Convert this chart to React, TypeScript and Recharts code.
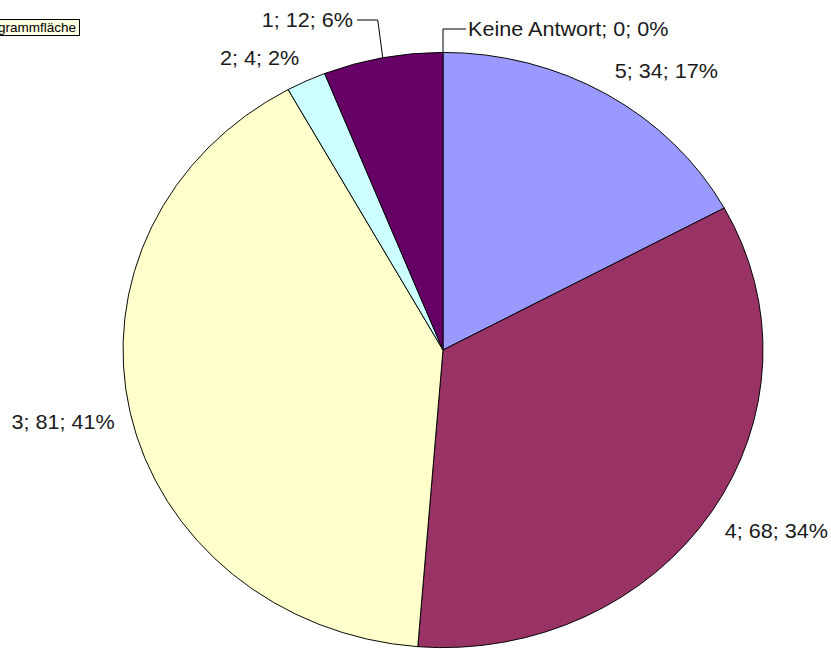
import { PieChart, Pie, Cell, Sector } from 'recharts';

// Antworten (Skala 1-5) – Reihenfolge wie im Original, im Uhrzeigersinn ab 12 Uhr
const CATEGORIES = ['Keine Antwort', '5', '4', '3', '2', '1'];
const COUNTS = [0, 34, 68, 81, 4, 12];
const COLORS = ['#9999FF', '#9999FF', '#993366', '#FFFFCC', '#CCFFFF', '#660066'];

const data = CATEGORIES.map((name, i) => ({ name, value: COUNTS[i] }));

const W = 831;
const H = 649;
const CX = 443;
const CY = 350;
const R = 320;
const SY = 0.93; // Screenshot ist horizontal gestreckt -> Torte als Ellipse
const SX_TEXT = 1.08; // gleiche Streckung für die Schrift
const LABEL_GAP = 16;
const RAD = Math.PI / 180;
const FONT = '"Liberation Sans", Arial, sans-serif';

// Beschriftungen mit Führungslinie (von Excel verschoben)
const LEADERS: Record<string, { elbowY: number; elbowDx: number; textX: number }> = {
  'Keine Antwort': { elbowY: 29, elbowDx: 0, textX: 468 },
  '1': { elbowY: 20, elbowDx: -5, textX: 353 },
};

const EllipseSector = (props: any) => (
  <g transform={`translate(0 ${props.cy * (1 - SY)}) scale(1 ${SY})`}>
    <Sector {...props} />
  </g>
);

const Label = ({ x, y, anchor, children }: { x: number; y: number; anchor: 'start' | 'end'; children: string }) => (
  <g transform={`translate(${x} ${y}) scale(${SX_TEXT} 1)`}>
    <text x={0} y={0} textAnchor={anchor} fontFamily={FONT} fontSize={20} fill="#1a1a1a">
      {children}
    </text>
  </g>
);

const renderLabel = (props: any) => {
  const { cx, cy, midAngle, outerRadius, percent, value } = props;
  const name = props.name ?? props.payload?.name;
  const a = midAngle * RAD;
  const cos = Math.cos(a);
  const sin = Math.sin(a);
  const text = `${name}; ${value}; ${Math.round(percent * 100)}%`;
  const leader = LEADERS[name];

  if (leader) {
    const ex = cx + outerRadius * cos;
    const ey = cy - SY * outerRadius * sin;
    const ax = ex + leader.elbowDx;
    const right = leader.textX > ex;
    const lx = right ? leader.textX - 2 : leader.textX + 4;
    return (
      <g>
        <polyline
          points={`${ex},${ey} ${ax},${leader.elbowY} ${lx},${leader.elbowY}`}
          fill="none"
          stroke="#000"
          strokeWidth={1}
        />
        <Label x={leader.textX} y={leader.elbowY + 7} anchor={right ? 'start' : 'end'}>
          {text}
        </Label>
      </g>
    );
  }

  const r = outerRadius + LABEL_GAP;
  const px = cx + r * cos;
  const py = cy - SY * r * sin;
  const y = sin >= 0 ? py - 3 : py + 10 + 14.7 * Math.abs(sin);
  return (
    <Label x={px} y={y} anchor={cos >= 0 ? 'start' : 'end'}>
      {text}
    </Label>
  );
};

export default function App() {
  return (
    <div style={{ position: 'absolute', left: 0, top: 0, width: W, height: H, background: '#fff', overflow: 'hidden' }}>
      <PieChart width={W} height={H} margin={{ top: 0, right: 0, bottom: 0, left: 0 }}>
        <Pie
          data={data}
          dataKey="value"
          nameKey="name"
          cx={CX}
          cy={CY}
          outerRadius={R}
          startAngle={90}
          endAngle={-270}
          stroke="#000"
          strokeWidth={1}
          shape={EllipseSector}
          label={renderLabel}
          labelLine={false}
          isAnimationActive={false}
        >
          {data.map((d, i) => (
            <Cell key={d.name} fill={COLORS[i]} />
          ))}
        </Pie>
      </PieChart>
      <div
        style={{
          position: 'absolute',
          left: -1,
          top: 19,
          width: 76,
          height: 15,
          background: '#FFFFE1',
          border: '1px solid #000',
          overflow: 'hidden',
          whiteSpace: 'nowrap',
          direction: 'rtl',
          fontFamily: FONT,
          fontSize: 13.5,
          lineHeight: '15px',
          color: '#000',
          paddingRight: 3,
        }}
      >
        <span style={{ direction: 'ltr', unicodeBidi: 'bidi-override' }}>Diagrammfläche</span>
      </div>
    </div>
  );
}
